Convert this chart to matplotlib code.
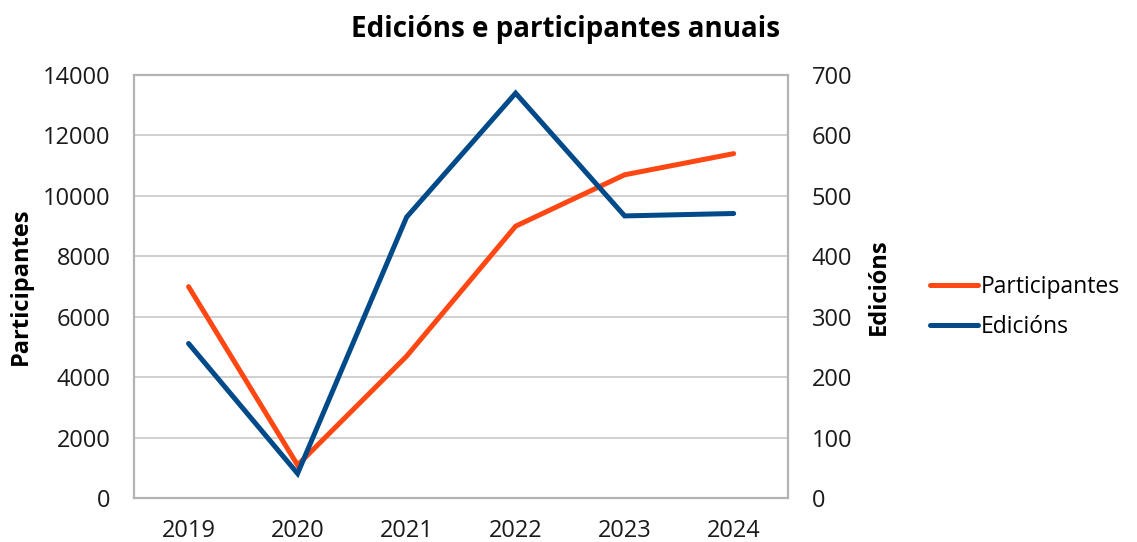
import matplotlib.pyplot as plt
import numpy as np

plt.rcParams['font.family'] = ['Open Sans', 'DejaVu Sans']

years = ['2019', '2020', '2021', '2022', '2023', '2024']
participantes = [7000, 1100, 4700, 9000, 10700, 11400]
edicions = [256, 41, 465, 670, 467, 471]

orange = '#FF4713'
blue = '#004A8A'
frame = '#B3B3B3'

fig = plt.figure(figsize=(11.37, 5.42), dpi=100)
ax = fig.add_axes([0.1179, 0.0806, 0.5753, 0.781])
ax2 = ax.twinx()

x = np.arange(len(years))
l1, = ax.plot(x, participantes, color=orange, lw=3.6, solid_capstyle='round',
              solid_joinstyle='miter', label='Participantes', zorder=3)
l2, = ax2.plot(x, edicions, color=blue, lw=3.6, solid_capstyle='round',
               solid_joinstyle='miter', label='Edicións', zorder=3)

ax.set_xlim(-0.5, 5.5)
ax.set_ylim(0, 14000)
ax2.set_ylim(0, 700)
ax.set_yticks(np.arange(0, 14001, 2000))
ax2.set_yticks(np.arange(0, 701, 100))
ax.set_xticks(x)
ax.set_xticklabels(years)

ax.grid(axis='y', color='#C8C8C8', lw=1.2)
ax.set_axisbelow(True)
for a in (ax, ax2):
    for s in a.spines.values():
        s.set_color(frame)
        s.set_linewidth(1.5)
    a.tick_params(length=0, labelsize=17, colors='#1a1a1a')
ax.tick_params(axis='y', pad=17)
ax2.tick_params(axis='y', pad=17)
ax.tick_params(axis='x', pad=15)

ax.set_ylabel('Participantes', fontsize=17, fontweight='bold')
ax.yaxis.set_label_coords(-0.155, 0.5)
ax2.set_ylabel('Edicións', fontsize=17, fontweight='bold')
ax2.yaxis.set_label_coords(1.12, 0.5)
ax2.yaxis.label.set_rotation(90)

fig.suptitle('Edicións e participantes anuais', x=0.497, y=0.972, fontsize=20,
             fontweight='bold')

fig.legend(handles=[l1, l2], loc='center left', bbox_to_anchor=(0.8, 0.434),
           frameon=False, fontsize=16.5, handlelength=2.1, handletextpad=0.1,
           labelspacing=0.7)

fig.savefig('out.png', dpi=100)
